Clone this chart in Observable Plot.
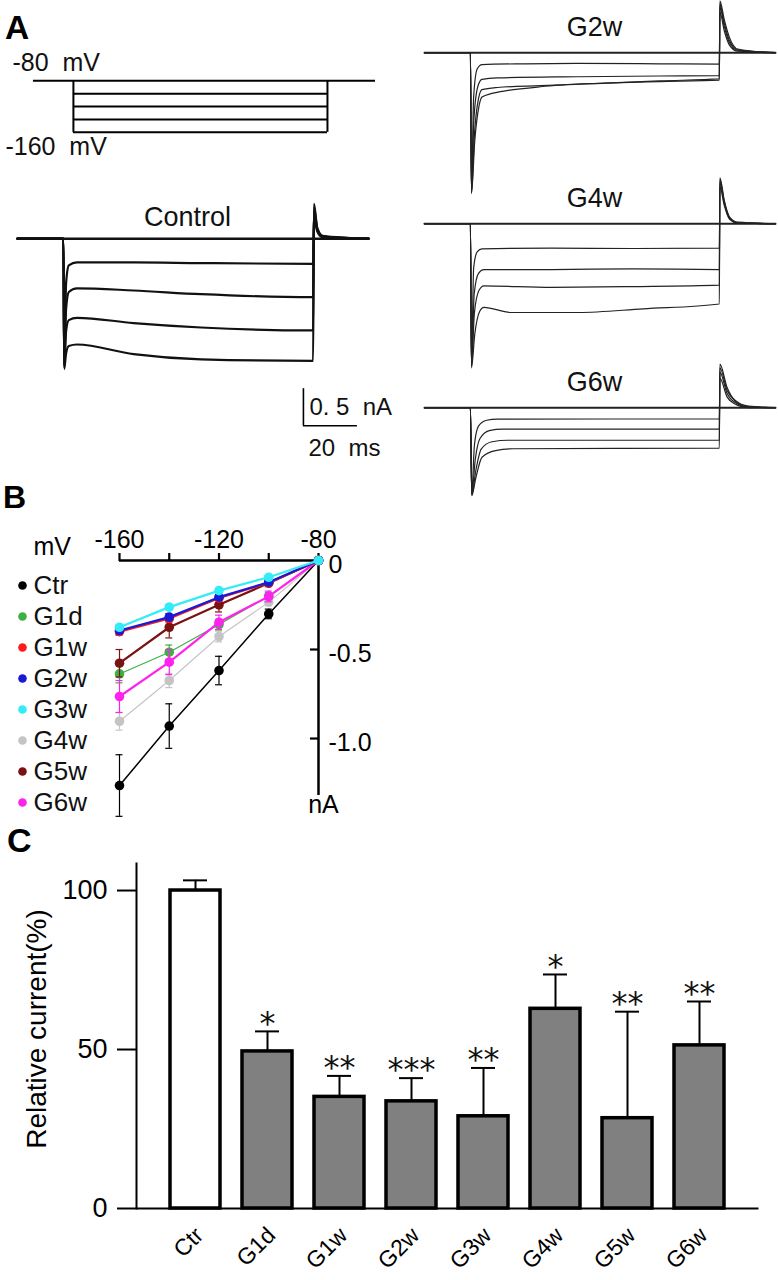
<!DOCTYPE html>
<html><head><meta charset="utf-8">
<script src="https://cdn.jsdelivr.net/npm/d3@7"></script>
<script src="https://cdn.jsdelivr.net/npm/@observablehq/plot@0.6"></script>
<style>
body{margin:0;background:#fff;}
#fig{position:relative;width:778px;height:1280px;overflow:hidden;font-family:"Liberation Sans",Arial,sans-serif;background:#fff;}
.abs{position:absolute;line-height:0;}
.panel{position:absolute;font-weight:bold;line-height:1;color:#000;}
</style></head><body><div id="fig"></div>
<script>
// ================= DATA =================
// Panel A — voltage protocol (ms, mV)
const protocolTimes = [-14.8, 0, 94.1, 111.9];      // holding start, step on, step off, holding end
const holdingPotential = -80;
const stepPotentials = [-100, -120, -140, -160];

// Panel A — current traces, [time (ms), current (nA)]
const ctrlHolding = [[-17,0],[113,0]];
const ctrlTrace1 = [[-17,0],[0,0],[0.3,-1.70],[1,-0.60],[2,-0.36],[5,-0.32],[26,-0.32],[51,-0.33],[92.5,-0.34],[92.8,0.30],[94,0.10],[96,0.02],[113,0]];
const ctrlTrace2 = [[-17,0],[0,0],[0.3,-1.72],[1,-0.95],[2,-0.72],[5,-0.67],[26,-0.70],[51,-0.75],[92.5,-0.79],[92.8,0.38],[94,0.12],[96,0.03],[113,0]];
const ctrlTrace3 = [[-17,0],[0,0],[0.3,-1.74],[1,-1.25],[2,-1.10],[5,-1.07],[26,-1.14],[51,-1.20],[92.5,-1.24],[92.8,0.43],[94,0.14],[96,0.03],[113,0]];
const ctrlTrace4 = [[-17,0],[0,0],[0.3,-1.76],[1,-1.55],[2,-1.45],[5,-1.43],[26,-1.56],[51,-1.63],[92.5,-1.65],[92.8,0.47],[94,0.15],[96,0.04],[113,0]];

const g2wHolding = [[-17,0],[113,0]];
const g2wTrace1 = [[-17,0],[0,0],[0.4,-1.85],[1.2,-0.60],[2.5,-0.22],[4.3,-0.16],[20,-0.15],[39.5,-0.145],[70,-0.15],[92.2,-0.155],[92.4,0.55],[94,0.30],[96,0.10],[99,0.02],[113,0]];
const g2wTrace2 = [[-17,0],[0,0],[0.4,-1.88],[1.3,-0.90],[2.8,-0.45],[4.3,-0.36],[10,-0.34],[39.5,-0.325],[70,-0.315],[92.2,-0.31],[92.4,0.62],[94,0.36],[96,0.13],[99,0.03],[113,0]];
const g2wTrace3 = [[-17,0],[0,0],[0.4,-1.90],[1.5,-1.10],[3,-0.62],[4.3,-0.50],[10,-0.47],[26,-0.445],[50,-0.41],[70,-0.39],[92.2,-0.37],[92.4,0.66],[94,0.40],[96,0.16],[99,0.04],[113,0]];
const g2wTrace4 = [[-17,0],[0,0],[0.4,-1.90],[1.6,-1.20],[3.2,-0.72],[4.3,-0.60],[8,-0.55],[14,-0.51],[26,-0.46],[50,-0.41],[70,-0.38],[92.2,-0.355],[92.4,0.70],[94,0.45],[96,0.20],[99,0.05],[113,0]];

const g4wHolding = [[-17,0],[113,0]];
const g4wTrace1 = [[-17,0],[0,0],[0.4,-1.90],[1.2,-0.60],[2.5,-0.38],[4.3,-0.34],[30,-0.33],[60,-0.335],[92.2,-0.33],[92.4,0.50],[94,0.25],[96,0.06],[99,0.01],[113,0]];
const g4wTrace2 = [[-17,0],[0,0],[0.4,-1.92],[1.4,-0.95],[3,-0.67],[5,-0.62],[30,-0.62],[60,-0.61],[92.2,-0.62],[92.4,0.56],[94,0.28],[96,0.07],[99,0.01],[113,0]];
const g4wTrace3 = [[-17,0],[0,0],[0.4,-1.93],[1.5,-1.20],[3.2,-0.90],[5,-0.84],[30,-0.86],[60,-0.85],[92.2,-0.83],[92.4,0.60],[94,0.30],[96,0.08],[99,0.01],[113,0]];
const g4wTrace4 = [[-17,0],[0,0],[0.4,-1.95],[1.6,-1.50],[3.5,-1.18],[5,-1.13],[15,-1.20],[40,-1.20],[64,-1.15],[92.2,-1.085],[92.4,0.62],[94,0.32],[96,0.09],[99,0.02],[113,0]];

const g6wHolding = [[-17,0],[113,0]];
const g6wTrace1 = [[-17,0],[0,0],[0.5,-1.15],[1.5,-0.50],[3,-0.25],[6,-0.17],[10,-0.155],[92.2,-0.15],[92.4,0.40],[95,0.15],[98,0.05],[103,0],[113,0]];
const g6wTrace2 = [[-17,0],[0,0],[0.5,-1.17],[1.8,-0.70],[3.5,-0.42],[7,-0.31],[12,-0.29],[92.2,-0.29],[92.4,0.48],[95,0.20],[98,0.07],[103,0.01],[113,0]];
const g6wTrace3 = [[-17,0],[0,0],[0.5,-1.18],[2,-0.85],[4,-0.56],[8,-0.46],[14,-0.44],[92.2,-0.44],[92.4,0.54],[95,0.24],[98,0.09],[103,0.01],[113,0]];
const g6wTrace4 = [[-17,0],[0,0],[0.5,-1.19],[2,-0.95],[4.3,-0.67],[9.3,-0.58],[16,-0.555],[92.2,-0.545],[92.4,0.59],[95,0.28],[98,0.10],[103,0.02],[113,0]];

// scale bar: 20 ms, 0.5 nA
const scaleBarTime = [88.9, 108.9];
const scaleBarCurrent = [-2.527, -2.027];

// Panel B — I–V relation
const ivVoltages = [-160, -140, -120, -100, -80];
const ivTickLabels = ["-160", "", "-120", "", "-80"];
const ivCurrentTicks = [0, -0.5, -1.0];
const ivCurrentTickLabels = ["0", "-0.5", "-1.0"];
const ivSeriesNames = ["Ctr","G1d","G1w","G2w","G3w","G4w","G5w","G6w"];
const ivSeriesColors = ["#000000","#3cb043","#ff1a1a","#1a1ad6","#33ecf8","#c4c4c4","#7a1212","#ff22ee"];
const ivCtr = [-1.264,-0.930,-0.618,-0.300,0];
const ivG1d = [-0.637,-0.515,-0.360,-0.200,0];
const ivG1w = [-0.400,-0.326,-0.210,-0.125,0];
const ivG2w = [-0.393,-0.318,-0.206,-0.122,0];
const ivG3w = [-0.375,-0.262,-0.169,-0.094,0];
const ivG4w = [-0.903,-0.674,-0.427,-0.234,0];
const ivG5w = [-0.577,-0.375,-0.249,-0.127,0];
const ivG6w = [-0.764,-0.571,-0.347,-0.202,0];
const ivCtrErr = [0.173,0.125,0.080,0.027,0];
const ivG1dErr = [0.050,0.040,0.030,0.020,0];
const ivG1wErr = [0.020,0.020,0.015,0.010,0];
const ivG2wErr = [0.020,0.020,0.015,0.010,0];
const ivG3wErr = [0.015,0.015,0.010,0.010,0];
const ivG4wErr = [0.050,0.040,0.030,0.020,0];
const ivG5wErr = [0.077,0.060,0.040,0.020,0];
const ivG6wErr = [0.090,0.070,0.040,0.030,0];

// Panel C — relative current
const groups = ["Ctr","G1d","G1w","G2w","G3w","G4w","G5w","G6w"];
const relCurrent = [100, 49.4, 35.1, 33.7, 29.0, 62.8, 28.4, 51.3];
const relCurrentSem = [3.2, 6.3, 6.6, 7.3, 15.2, 10.8, 33.5, 13.8];
const significance = ["", "*", "**", "***", "**", "*", "**", "**"];
const relTicks = [0, 50, 100];

// ================= LAYOUT HELPERS =================
const FONT = '"Liberation Sans", Arial, sans-serif';
const fig = document.getElementById("fig");
function place(node, left, top) {
  const d = document.createElement("div");
  d.className = "abs";
  d.style.left = left + "px"; d.style.top = top + "px";
  node.style.maxWidth = "none";
  d.appendChild(node); fig.appendChild(d);
}
function panelLabel(txt, left, top, size) {
  const d = document.createElement("div");
  d.className = "panel"; d.textContent = txt;
  d.style.left = left + "px"; d.style.top = top + "px"; d.style.fontSize = size + "px";
  fig.appendChild(d);
}
const baseStyle = {background: "transparent", overflow: "visible", fontFamily: FONT, color: "#000", whiteSpace: "pre"};

// ================= PANEL A =================
const PX_MS = 2.7, PX_NA = 74, PX_MV = 0.645;
const xy = {x: d => d[0], y: d => d[1]};

// protocol
{
  const xDomain = [-27, 113], yDomain = [-200, -30];
  const p = Plot.plot({
    width: (xDomain[1]-xDomain[0])*PX_MS, height: (yDomain[1]-yDomain[0])*PX_MV,
    margin: 0, x: {domain: xDomain, axis: null}, y: {domain: yDomain, axis: null},
    style: {...baseStyle, fontSize: "25px"},
    marks: [
      Plot.ruleY([holdingPotential], {x1: protocolTimes[0], x2: protocolTimes[3], strokeWidth: 2}),
      Plot.ruleY(stepPotentials, {x1: protocolTimes[1], x2: protocolTimes[2], strokeWidth: 2}),
      Plot.ruleX([protocolTimes[1], protocolTimes[2]], {y1: holdingPotential, y2: stepPotentials[stepPotentials.length-1], strokeWidth: 2}),
      Plot.text([`${holdingPotential}\u00a0\u00a0mV`], {x: protocolTimes[0], y: holdingPotential, dx: -21, dy: -18, textAnchor: "start", fill: "#111"}),
      Plot.text([`${stepPotentials[stepPotentials.length-1]}\u00a0\u00a0mV`], {x: protocolTimes[0], y: stepPotentials[stepPotentials.length-1], dx: -28, dy: 15, textAnchor: "start", fill: "#111"})
    ]
  });
  place(p, 73 + xDomain[0]*PX_MS, 80.7 - (yDomain[1]-holdingPotential)*PX_MV);
}

function tracePlot({traces, holding, label, xDomain, yDomain, stepX, baseY, strokeWidth, holdWidth, stroke, extra = []}) {
  const stepMid = 46;
  const p = Plot.plot({
    width: (xDomain[1]-xDomain[0])*PX_MS, height: (yDomain[1]-yDomain[0])*PX_NA,
    margin: 0, x: {domain: xDomain, axis: null}, y: {domain: yDomain, axis: null},
    style: {...baseStyle, fontSize: "27px"},
    marks: [
      Plot.line(holding, {...xy, stroke, strokeWidth: holdWidth}),
      ...traces.map(tr => Plot.line(tr, {...xy, stroke, strokeWidth, curve: "monotone-x"})),
      Plot.text([label], {x: stepMid, y: 0, dy: -(label === "Control" ? 21 : 25), textAnchor: "middle", fill: "#111"}),
      ...extra
    ]
  });
  place(p, stepX + xDomain[0]*PX_MS, baseY - yDomain[1]*PX_NA);
}

tracePlot({
  traces: [ctrlTrace1, ctrlTrace2, ctrlTrace3, ctrlTrace4], holding: ctrlHolding, label: "Control",
  xDomain: [-17, 130], yDomain: [-3.0, 0.8], stepX: 63, baseY: 238, strokeWidth: 2.2, holdWidth: 2.6, stroke: "#111",
  extra: [
    Plot.ruleX([scaleBarTime[0]], {y1: scaleBarCurrent[0], y2: scaleBarCurrent[1], strokeWidth: 1.6}),
    Plot.ruleY([scaleBarCurrent[0]], {x1: scaleBarTime[0], x2: scaleBarTime[1], strokeWidth: 1.6}),
    Plot.text(["0.\u00a05\u00a0\u00a0nA"], {x: scaleBarTime[0], y: (scaleBarCurrent[0]+scaleBarCurrent[1])/2, dx: 6, textAnchor: "start", fontSize: 24, fill: "#111"}),
    Plot.text(["20\u00a0\u00a0ms"], {x: scaleBarTime[0], y: scaleBarCurrent[0], dx: 5, dy: 23, textAnchor: "start", fontSize: 24, fill: "#111"})
  ]
});
tracePlot({traces: [g2wTrace1, g2wTrace2, g2wTrace3, g2wTrace4], holding: g2wHolding, label: "G2w",
  xDomain: [-17, 113], yDomain: [-2.1, 0.8], stepX: 470, baseY: 52, strokeWidth: 1.2, holdWidth: 2, stroke: "#222"});
tracePlot({traces: [g4wTrace1, g4wTrace2, g4wTrace3, g4wTrace4], holding: g4wHolding, label: "G4w",
  xDomain: [-17, 113], yDomain: [-2.1, 0.8], stepX: 470, baseY: 223, strokeWidth: 1.2, holdWidth: 2, stroke: "#222"});
tracePlot({traces: [g6wTrace1, g6wTrace2, g6wTrace3, g6wTrace4], holding: g6wHolding, label: "G6w",
  xDomain: [-17, 113], yDomain: [-2.1, 0.8], stepX: 470, baseY: 407, strokeWidth: 1.2, holdWidth: 2, stroke: "#222"});

// ================= PANEL B =================
{
  const values = {Ctr: ivCtr, G1d: ivG1d, G1w: ivG1w, G2w: ivG2w, G3w: ivG3w, G4w: ivG4w, G5w: ivG5w, G6w: ivG6w};
  const errs = {Ctr: ivCtrErr, G1d: ivG1dErr, G1w: ivG1wErr, G2w: ivG2wErr, G3w: ivG3wErr, G4w: ivG4wErr, G5w: ivG5wErr, G6w: ivG6wErr};
  const drawOrder = ["G4w","G1d","Ctr","G6w","G5w","G1w","G2w","G3w"];
  const widths = {Ctr: 1.5, G1d: 1.1, G4w: 1.1};
  const color = {domain: ivSeriesNames, range: ivSeriesColors};
  const marks = [];
  for (const s of drawOrder) {
    const rows = ivVoltages.map((v, i) => ({v, i: values[s][i], e: errs[s][i], s}));
    const errRows = rows.filter(r => r.e > 0);
    marks.push(
      Plot.ruleX(errRows, {x: "v", y1: r => r.i - r.e, y2: r => r.i + r.e, stroke: "s", strokeWidth: 1.2}),
      Plot.ruleY(errRows, {y: r => r.i - r.e, x1: r => r.v - 1.4, x2: r => r.v + 1.4, stroke: "s", strokeWidth: 1.2}),
      Plot.ruleY(errRows, {y: r => r.i + r.e, x1: r => r.v - 1.4, x2: r => r.v + 1.4, stroke: "s", strokeWidth: 1.2}),
      Plot.line(rows, {x: "v", y: "i", stroke: "s", strokeWidth: widths[s] ?? 2.2}),
      Plot.dot(rows, {x: "v", y: "i", fill: "s", r: 4.8})
    );
  }
  const p = Plot.plot({
    width: 400, height: 357, marginTop: 90, marginBottom: 32, marginLeft: 119, marginRight: 82,
    x: {domain: [-160, -80]}, y: {domain: [-1.32, 0]}, color,
    style: {...baseStyle, fontSize: "25px"},
    marks: [
      Plot.axisX({anchor: "top", ticks: ivVoltages, tickSize: 8, tickPadding: 5, strokeWidth: 2.2, label: null,
        tickFormat: d => ivTickLabels[ivVoltages.indexOf(d)]}),
      Plot.axisY({anchor: "right", ticks: ivCurrentTicks, tickSize: 0, tickPadding: 10, label: null, dy: 4,
        tickFormat: d => ivCurrentTickLabels[ivCurrentTicks.indexOf(d)]}),
      Plot.tickY(ivCurrentTicks.slice(1), {insetLeft: 191, strokeWidth: 2.2}),
      Plot.ruleY([0], {strokeWidth: 2.5}),
      Plot.ruleX([-80], {strokeWidth: 2.5}),
      Plot.text(["mV"], {frameAnchor: "top-left", dx: -86, dy: -23, textAnchor: "start"}),
      Plot.text(["nA"], {frameAnchor: "bottom-right", dx: 5, dy: 17, textAnchor: "middle"}),
      ...marks
    ]
  });
  place(p, 0, 470);

  // legend
  const legend = Plot.plot({
    width: 120, height: 219, margin: 0,
    y: {domain: ivSeriesNames, padding: 0, axis: null},
    color,
    style: {...baseStyle, fontSize: "26px"},
    marks: [
      Plot.dot(ivSeriesNames, {y: d => d, fill: d => d, frameAnchor: "left", dx: 22, r: 4.3}),
      Plot.text(ivSeriesNames, {y: d => d, frameAnchor: "left", dx: 33, textAnchor: "start", fill: "#111"})
    ]
  });
  place(legend, 0, 584.3);
}

// ================= PANEL C =================
{
  const rows = groups.map((g, i) => ({g, v: relCurrent[i], e: relCurrentSem[i], sig: significance[i]}));
  const p = Plot.plot({
    width: 778, height: 450, marginTop: 33, marginBottom: 72, marginLeft: 136, marginRight: 19.5,
    x: {domain: groups, paddingInner: 0.31, paddingOuter: 0.448},
    y: {domain: [0, 108.5]},
    style: {...baseStyle, fontSize: "27px"},
    marks: [
      Plot.ruleX(rows, {x: "g", y1: "v", y2: d => d.v + d.e, strokeWidth: 2}),
      Plot.tickY(rows, {x: "g", y: d => d.v + d.e, insetLeft: 13, insetRight: 13, strokeWidth: 2}),
      Plot.barY(rows.filter(d => d.g === "Ctr"), {x: "g", y: "v", fill: "white", stroke: "black", strokeWidth: 3.5}),
      Plot.barY(rows.filter(d => d.g !== "Ctr"), {x: "g", y: "v", fill: "#808080", stroke: "black", strokeWidth: 3.5}),
      Plot.text(rows, {x: "g", y: d => d.v + d.e, text: "sig", dy: -8, fontSize: 32, fontFamily: "DejaVu Sans", fill: "#111"}),
      Plot.ruleY([0], {strokeWidth: 2}),
      Plot.frame({anchor: "left", strokeWidth: 2}),
      Plot.axisY({ticks: relTicks, tickSize: 19, tickPadding: 10, strokeWidth: 2, label: null, tickFormat: d => String(d)}),
      Plot.axisX({tickSize: 0, tickRotate: -45, tickPadding: 23, dx: 4, fontSize: 23, label: null}),
      Plot.text(["Relative current(%)"], {frameAnchor: "left", rotate: -90, dx: -99, dy: -7, textAnchor: "middle", fontSize: 28})
    ]
  });
  place(p, 0, 830);
}

panelLabel("A", 5, 10.6, 33.5);
panelLabel("B", 3, 481, 32);
panelLabel("C", 7, 823, 34);
</script>
</body></html>
